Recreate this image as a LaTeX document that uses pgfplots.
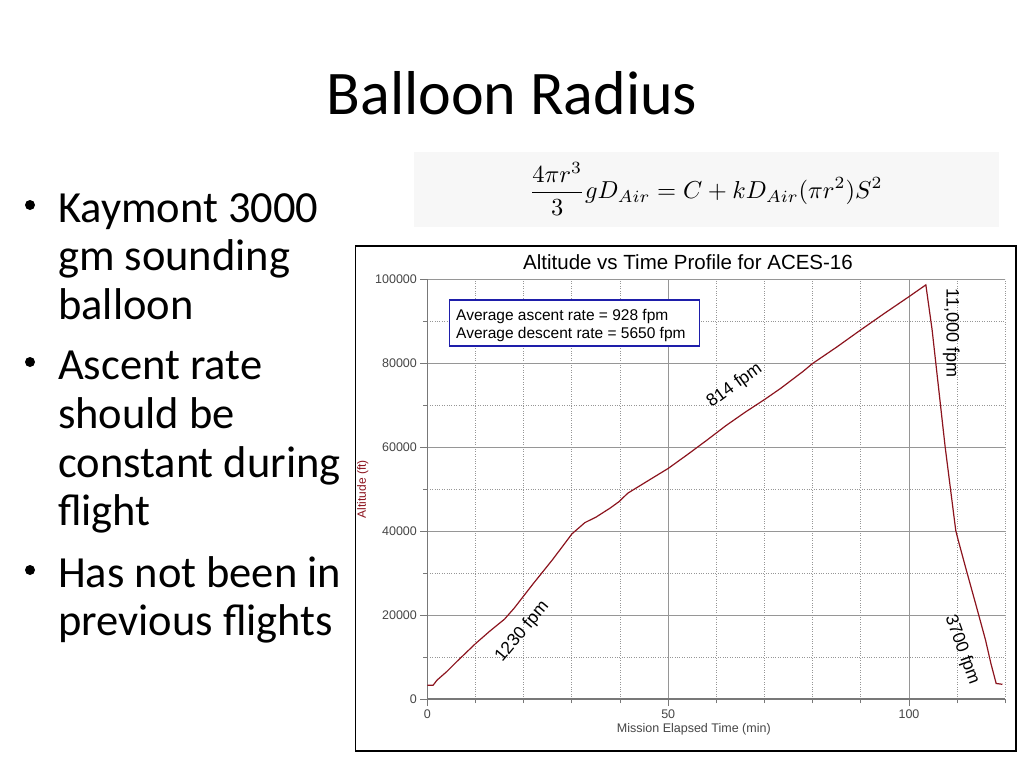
\documentclass[border=0pt]{standalone}
\usepackage{pgfplots}
\pgfplotsset{compat=1.18}
\usepackage{fontspec}
\setmainfont{Carlito}
\newfontfamily\arial{Liberation Sans}
\definecolor{curve}{RGB}{140,20,30}
\definecolor{boxblue}{RGB}{30,30,170}
\definecolor{gridgray}{RGB}{150,150,150}
\definecolor{axgray}{RGB}{120,120,120}
\definecolor{ticktext}{RGB}{70,70,70}

\begin{document}
\begin{tikzpicture}
\begin{scope}[x=1pt,y=-1pt]
\useasboundingbox[fill=white] (0,0) rectangle (1024,768);

% slide title
\node[anchor=base,font=\fontsize{62}{72}\selectfont] at (512,114) {Balloon Radius};

% bullets
\foreach \yy in {205,362,570} \fill (30,\yy) circle (5);
\foreach \yy/\txt in {222/Kaymont 3000, 270/gm sounding, 319/balloon,
  379/Ascent rate, 428/should be, 477/constant during, 525/flight,
  587/Has not been in, 635/previous flights}
  \node[anchor=base west,inner sep=0pt,font=\fontsize{44.5}{48}\selectfont] at (58,\yy) {\txt};

% formula
\fill[black!3] (414,152) rectangle (999,227);
\node[scale=2.45] at (706,189) {$\displaystyle \frac{4\pi r^3}{3} g D_{Air} = C + k D_{Air}(\pi r^2)S^2$};

% chart frame
\draw[black,line width=1.5pt] (355.5,246) rectangle (1016,751);
\node[anchor=base,font=\arial\fontsize{20.5}{24}\selectfont] at (688,269) {Altitude vs Time Profile for ACES-16};
\end{scope}

\begin{axis}[
  at={(427.4pt,-699pt)}, anchor=south west,
  scale only axis, width=577.9pt, height=420pt,
  xmin=0, xmax=120, ymin=0, ymax=100000,
  xtick={0,50,100}, minor xtick={10,20,30,40,60,70,80,90,110,120},
  ytick={0,20000,40000,60000,80000,100000},
  minor ytick={10000,30000,50000,70000,90000},
  grid=both,
  major grid style={gridgray,line width=0.9pt},
  minor grid style={gridgray,dotted,line width=0.8pt},
  axis lines*=left,
  axis line style={axgray,line width=1.3pt},
  tick align=outside, major tick length=7pt, minor tick length=4pt,
  tick style={axgray,line width=0.9pt},
  scaled y ticks=false,
  /pgf/number format/fixed,
  /pgf/number format/assume math mode=true,
  /pgf/number format/set thousands separator={},
  ticklabel style={font=\arial\fontsize{12.5}{14}\selectfont,text=ticktext},
  xlabel={Mission Elapsed Time (min)},
  xlabel style={at={(axis description cs:0.461,0)},anchor=base,yshift=-33pt,
    font=\arial\fontsize{12.5}{14}\selectfont,text=ticktext},
  ylabel={Altitude (ft)},
  ylabel style={font=\arial\fontsize{12}{14}\selectfont,text=curve},
  clip=false,
]
\addplot[curve,line width=1.2pt] coordinates {
(0,3300) (1.2,3300) (2,4500) (4,6500) (6,8800) (8,11000) (10,13200)
(13,16200) (16,19000) (18,21600) (22,27500) (26,33200) (30,39300)
(32.7,42000) (35,43300) (38,45500) (39.8,47000) (41.6,49000) (46,52100)
(50,54900) (54,58200) (58,61600) (62,65100) (66,68300) (70,71300)
(73.4,74000) (78,78000) (80,79900) (85,83800) (90,87900) (95,91900)
(100,95800) (103.5,98600) (104.8,87900) (107.5,60100) (109.7,40200)
(110.2,37900) (111.9,30700) (114,22000) (115.9,14000) (117,8500)
(118.1,3700) (119.4,3500)
};
\node[rotate=50,font=\arial\fontsize{17.5}{20}\selectfont] at (axis cs:19.7,16000) {1230 fpm};
\node[rotate=36,font=\arial\fontsize{17.5}{20}\selectfont] at (axis cs:63.8,74600) {814 fpm};
\node[rotate=-90,font=\arial\fontsize{18}{20}\selectfont] at (axis cs:108.8,87100) {11,000 fpm};
\node[rotate=-70,font=\arial\fontsize{17.5}{20}\selectfont] at (axis cs:111.0,11700) {3700 fpm};
\end{axis}

% rate box
\begin{scope}[x=1pt,y=-1pt]
\draw[boxblue,line width=1.5pt,fill=white] (449.6,300) rectangle (699.3,346);
\node[anchor=base west,inner sep=0pt,font=\arial\fontsize{15.5}{17}\selectfont] at (456,320) {Average ascent rate = 928 fpm};
\node[anchor=base west,inner sep=0pt,font=\arial\fontsize{15.5}{17}\selectfont] at (456,338) {Average descent rate = 5650 fpm};
\end{scope}
\end{tikzpicture}
\end{document}
